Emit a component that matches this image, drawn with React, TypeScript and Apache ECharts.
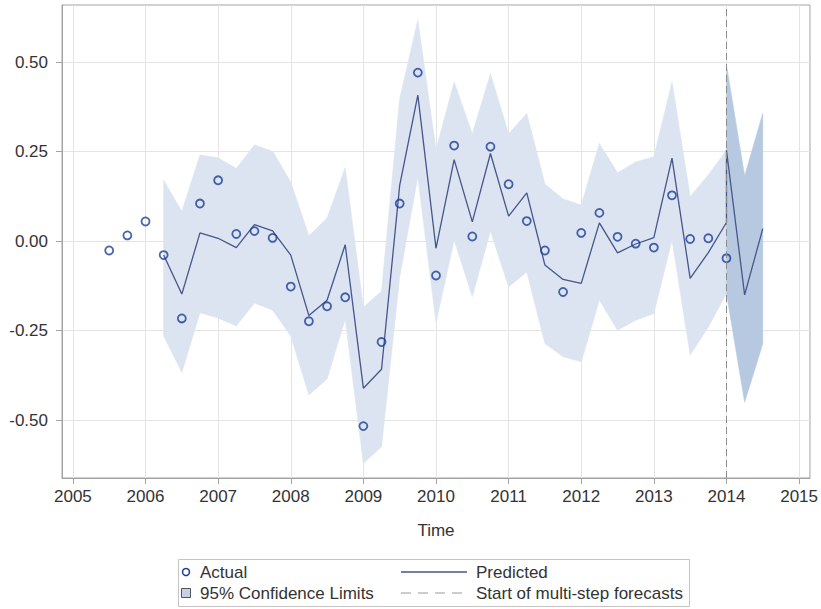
import React, { useEffect, useRef } from 'react';
import * as echarts from 'echarts';

// ---- data ----
const actualTime = [
  2005.5, 2005.75, 2006.0, 2006.25, 2006.5, 2006.75, 2007.0, 2007.25, 2007.5, 2007.75,
  2008.0, 2008.25, 2008.5, 2008.75, 2009.0, 2009.25, 2009.5, 2009.75, 2010.0, 2010.25,
  2010.5, 2010.75, 2011.0, 2011.25, 2011.5, 2011.75, 2012.0, 2012.25, 2012.5, 2012.75,
  2013.0, 2013.25, 2013.5, 2013.75, 2014.0,
];
const actualValue = [
  -0.026, 0.016, 0.055, -0.039, -0.216, 0.105, 0.170, 0.020, 0.028, 0.009,
  -0.127, -0.224, -0.182, -0.157, -0.517, -0.282, 0.105, 0.471, -0.096, 0.267,
  0.013, 0.264, 0.159, 0.056, -0.026, -0.142, 0.023, 0.079, 0.012, -0.007,
  -0.018, 0.128, 0.006, 0.008, -0.048,
];

const predictedTime = [
  2006.25, 2006.5, 2006.75, 2007.0, 2007.25, 2007.5, 2007.75, 2008.0, 2008.25, 2008.5,
  2008.75, 2009.0, 2009.25, 2009.5, 2009.75, 2010.0, 2010.25, 2010.5, 2010.75, 2011.0,
  2011.25, 2011.5, 2011.75, 2012.0, 2012.25, 2012.5, 2012.75, 2013.0, 2013.25, 2013.5,
  2013.75, 2014.0, 2014.0, 2014.25, 2014.5,
];
const predictedValue = [
  -0.039, -0.148, 0.023, 0.008, -0.018, 0.046, 0.029, -0.039, -0.208, -0.165,
  -0.010, -0.411, -0.358, 0.156, 0.408, -0.020, 0.228, 0.054, 0.245, 0.070,
  0.135, -0.067, -0.107, -0.118, 0.051, -0.033, -0.008, 0.010, 0.232, -0.104,
  -0.032, 0.052, 0.254, -0.150, 0.035,
];

const bandTime = [
  2006.25, 2006.5, 2006.75, 2007.0, 2007.25, 2007.5, 2007.75, 2008.0, 2008.25, 2008.5,
  2008.75, 2009.0, 2009.25, 2009.5, 2009.75, 2010.0, 2010.25, 2010.5, 2010.75, 2011.0,
  2011.25, 2011.5, 2011.75, 2012.0, 2012.25, 2012.5, 2012.75, 2013.0, 2013.25, 2013.5,
  2013.75, 2014.0,
];
const bandLower = [
  -0.265, -0.367, -0.200, -0.215, -0.237, -0.173, -0.193, -0.265, -0.430, -0.385,
  -0.218, -0.621, -0.575, -0.100, 0.180, -0.228, 0.003, -0.155, 0.028, -0.128,
  -0.086, -0.286, -0.323, -0.337, -0.165, -0.249, -0.221, -0.202, 0.003, -0.318,
  -0.240, -0.146,
];
const bandUpper = [
  0.170, 0.083, 0.241, 0.233, 0.203, 0.269, 0.251, 0.165, 0.015, 0.065,
  0.205, -0.185, -0.140, 0.398, 0.618, 0.255, 0.445, 0.300, 0.468, 0.300,
  0.357, 0.160, 0.118, 0.101, 0.273, 0.191, 0.221, 0.236, 0.445, 0.125,
  0.185, 0.254,
];

const forecastTime = [2014.0, 2014.25, 2014.5];
const forecastLower = [-0.146, -0.450, -0.287];
const forecastUpper = [0.492, 0.182, 0.357];

const forecastStart = 2014.0;
const xTicks = [2005, 2006, 2007, 2008, 2009, 2010, 2011, 2012, 2013, 2014, 2015];
const yTicks = [-0.5, -0.25, 0, 0.25, 0.5];

const FONT = "'Liberation Sans', Arial, sans-serif";
const FS = 17;
const TEXT = '#333333';
const FRAME = '#a3a3a3';
const GRID = '#e4e4e4';
const LIGHT = '#dbe4f0';
const DARK = '#b7c9e1';
const MARK = '#1c3c98';
const LINE = '#46558a';

function bandSeries(name: string, times: number[], lo: number[], hi: number[], color: string, z: number) {
  return {
    type: 'custom',
    name,
    z,
    silent: true,
    data: times.map((t, i) => [t, lo[i], hi[i]]),
    encode: { x: 0, y: [1, 2] },
    renderItem: (params: any, api: any) => {
      if (params.dataIndex !== 0) return null;
      const pts: number[][] = [];
      for (let i = 0; i < times.length; i++) pts.push(api.coord([times[i], hi[i]]));
      for (let i = times.length - 1; i >= 0; i--) pts.push(api.coord([times[i], lo[i]]));
      return {
        type: 'polygon',
        shape: { points: pts },
        style: { fill: color, stroke: color, lineWidth: 0.6 },
      };
    },
  };
}

export default function App() {
  const ref = useRef<HTMLDivElement>(null);
  useEffect(() => {
    if (!ref.current) return;
    const chart = echarts.init(ref.current, undefined, { renderer: 'svg' });
    const legendY1 = 572;
    const legendY2 = 593;
    chart.setOption({
      animation: false,
      backgroundColor: '#ffffff',
      textStyle: { fontFamily: FONT },
      grid: {
        left: 62, right: 11, top: 5, bottom: 131,
        show: true, borderColor: FRAME, borderWidth: 1, backgroundColor: 'transparent',
      },
      xAxis: {
        type: 'value',
        min: 2004.85,
        max: 2015.15,
        name: 'Time',
        nameLocation: 'middle',
        nameGap: 44,
        nameTextStyle: { color: TEXT, fontSize: FS, fontFamily: FONT },
        axisLine: { show: true, onZero: false, lineStyle: { color: FRAME, width: 1 } },
        axisTick: { show: true, inside: false, length: 6, lineStyle: { color: FRAME }, customValues: xTicks },
        axisLabel: {
          color: TEXT, fontSize: FS, fontFamily: FONT, margin: 10,
          customValues: xTicks, formatter: (v: number) => String(Math.round(v)),
        },
        splitLine: { show: true, lineStyle: { color: GRID, width: 1 } },
      },
      yAxis: {
        type: 'value',
        min: -0.662,
        max: 0.66,
        axisLine: { show: true, onZero: false, lineStyle: { color: FRAME, width: 1 } },
        axisTick: { show: true, inside: false, length: 6, lineStyle: { color: FRAME }, customValues: yTicks },
        axisLabel: {
          color: TEXT, fontSize: FS, fontFamily: FONT, margin: 14,
          customValues: yTicks, formatter: (v: number) => v.toFixed(2),
        },
        splitLine: { show: true, lineStyle: { color: GRID, width: 1 } },
      },
      series: [
        bandSeries('95% Confidence Limits', bandTime, bandLower, bandUpper, LIGHT, 1),
        bandSeries('95% Confidence Limits (forecast)', forecastTime, forecastLower, forecastUpper, DARK, 2),
        {
          type: 'line',
          name: 'Predicted',
          z: 3,
          data: predictedTime.map((t, i) => [t, predictedValue[i]]),
          showSymbol: false,
          symbol: 'none',
          lineStyle: { color: LINE, width: 1.3 },
          markLine: {
            silent: true,
            symbol: ['none', 'none'],
            label: { show: false },
            lineStyle: { color: '#8c8c8c', type: [7, 4], width: 1 },
            data: [{ xAxis: forecastStart }],
          },
        },
        {
          type: 'scatter',
          name: 'Actual',
          z: 4,
          data: actualTime.map((t, i) => [t, actualValue[i]]),
          symbol: 'circle',
          symbolSize: 8,
          itemStyle: { color: 'rgba(255,255,255,0)', borderColor: MARK, borderWidth: 1.8 },
        },
      ],
      graphic: [
        {
          type: 'rect', silent: true,
          shape: { x: 178.5, y: 559.5, width: 511, height: 47 },
          style: { fill: 'none', stroke: '#c4c4c4', lineWidth: 1 },
        },
        {
          type: 'circle', silent: true,
          shape: { cx: 186, cy: legendY1, r: 3.5 },
          style: { fill: 'none', stroke: MARK, lineWidth: 1.5 },
        },
        {
          type: 'text', silent: true, x: 200, y: legendY1,
          style: { text: 'Actual', fill: TEXT, font: `${FS}px ${FONT}`, verticalAlign: 'middle' },
        },
        {
          type: 'rect', silent: true,
          shape: { x: 181.5, y: legendY2 - 4.5, width: 9, height: 9 },
          style: { fill: '#c3d2e7', stroke: '#555555', lineWidth: 1 },
        },
        {
          type: 'text', silent: true, x: 200, y: legendY2,
          style: { text: '95% Confidence Limits', fill: TEXT, font: `${FS}px ${FONT}`, verticalAlign: 'middle' },
        },
        {
          type: 'line', silent: true,
          shape: { x1: 401, y1: legendY1, x2: 467, y2: legendY1 },
          style: { stroke: LINE, lineWidth: 1.3 },
        },
        {
          type: 'text', silent: true, x: 476, y: legendY1,
          style: { text: 'Predicted', fill: TEXT, font: `${FS}px ${FONT}`, verticalAlign: 'middle' },
        },
        {
          type: 'line', silent: true,
          shape: { x1: 401, y1: legendY2, x2: 467, y2: legendY2 },
          style: { stroke: '#9a9a9a', lineWidth: 1, lineDash: [10, 7] },
        },
        {
          type: 'text', silent: true, x: 476, y: legendY2,
          style: { text: 'Start of multi-step forecasts', fill: TEXT, font: `${FS}px ${FONT}`, verticalAlign: 'middle' },
        },
      ],
    });
    return () => chart.dispose();
  }, []);
  return (
    <div
      ref={ref}
      style={{ position: 'absolute', left: 0, top: 0, width: 821, height: 609, background: '#fff' }}
    />
  );
}
